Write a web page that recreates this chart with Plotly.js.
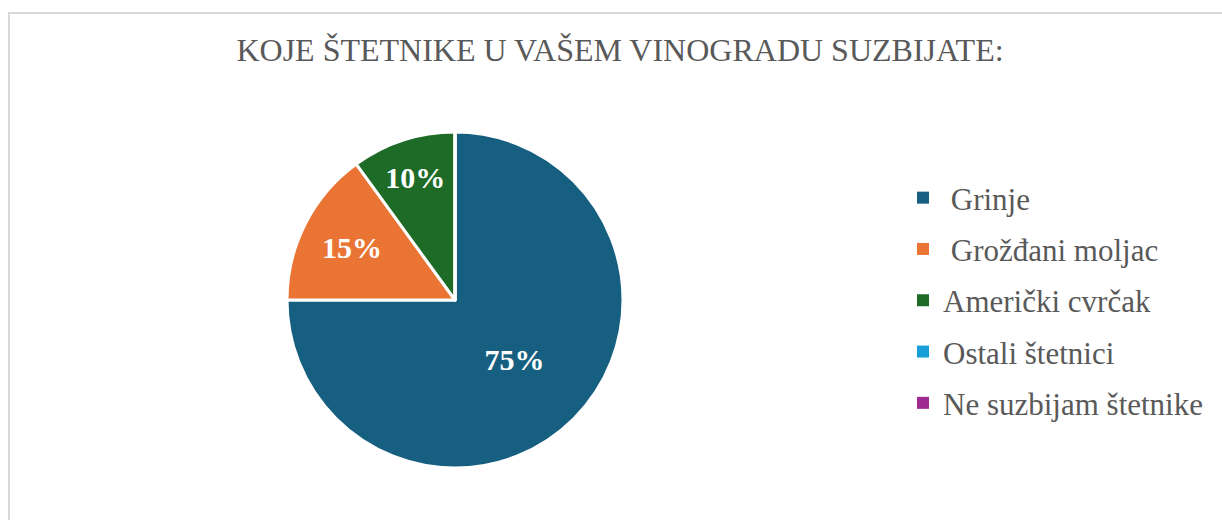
<!DOCTYPE html>
<html>
<head>
<meta charset="utf-8">
<script src="https://cdn.plot.ly/plotly-3.0.1.min.js"></script>
<style>
  html, body { margin: 0; padding: 0; background: #fff; }
  #frame { position: absolute; left: 8px; top: 12px; width: 1300px; height: 600px;
           border-left: 2px solid #d9d9d9; border-top: 2px solid #d9d9d9; box-sizing: border-box; }
  #chart { position: absolute; left: 0; top: 0; width: 1222px; height: 520px; }
</style>
</head>
<body>
<div id="frame"></div>
<div id="chart"></div>
<script>
// Data
const titleText = "KOJE ŠTETNIKE U VAŠEM VINOGRADU SUZBIJATE:";
const categories = ["Grinje", "Grožđani moljac", "Američki cvrčak", "Ostali štetnici", "Ne suzbijam štetnike"];
const legendLabels = ["\u00a0Grinje", "\u00a0Grožđani moljac", "Američki cvrčak", "Ostali štetnici", "Ne suzbijam štetnike"];
const values = [75, 15, 10, 0, 0];
const colors = ["#175F80", "#E97433", "#1D6B27", "#189FD8", "#9E2A8F"];

const pie = {
  type: "pie",
  labels: categories,
  values: values,
  sort: false,
  direction: "clockwise",
  rotation: 0,
  marker: { colors: colors, line: { color: "#ffffff", width: 3 } },
  textinfo: "percent",
  textposition: "inside",
  insidetextorientation: "horizontal",
  textfont: { family: "Liberation Serif", size: 30, color: "#ffffff", weight: "bold" },
  showlegend: false,
  hoverinfo: "label+percent",
  domain: { x: [287/1222, 623/1222], y: [1 - 468/520, 1 - 132/520] }
};

const legendTraces = categories.map((c, i) => ({
  type: "scatter",
  mode: "markers",
  x: [null], y: [null],
  name: legendLabels[i],
  legendgroup: "g" + i,
  marker: { symbol: "square", size: 12, color: colors[i] },
  showlegend: true,
  hoverinfo: "skip"
}));

const layout = {
  width: 1222, height: 520,
  margin: { l: 0, r: 0, t: 0, b: 0 },
  paper_bgcolor: "rgba(0,0,0,0)",
  plot_bgcolor: "rgba(0,0,0,0)",
  title: {
    text: titleText,
    font: { family: "Liberation Serif", size: 32, color: "#595959" },
    x: 620/1222, xanchor: "center", y: 1 - 50/520, yanchor: "middle"
  },
  xaxis: { visible: false, domain: [0.99, 1] },
  yaxis: { visible: false, domain: [0.99, 1] },
  legend: {
    x: 903/1222, xanchor: "left",
    y: 1 - 171/520, yanchor: "top",
    font: { family: "Liberation Serif", size: 31, color: "#595959" },
    tracegroupgap: 8,
    itemclick: false
  },
  showlegend: true
};

Plotly.newPlot("chart", [pie].concat(legendTraces), layout, { displayModeBar: false, staticPlot: true });
</script>
</body>
</html>
